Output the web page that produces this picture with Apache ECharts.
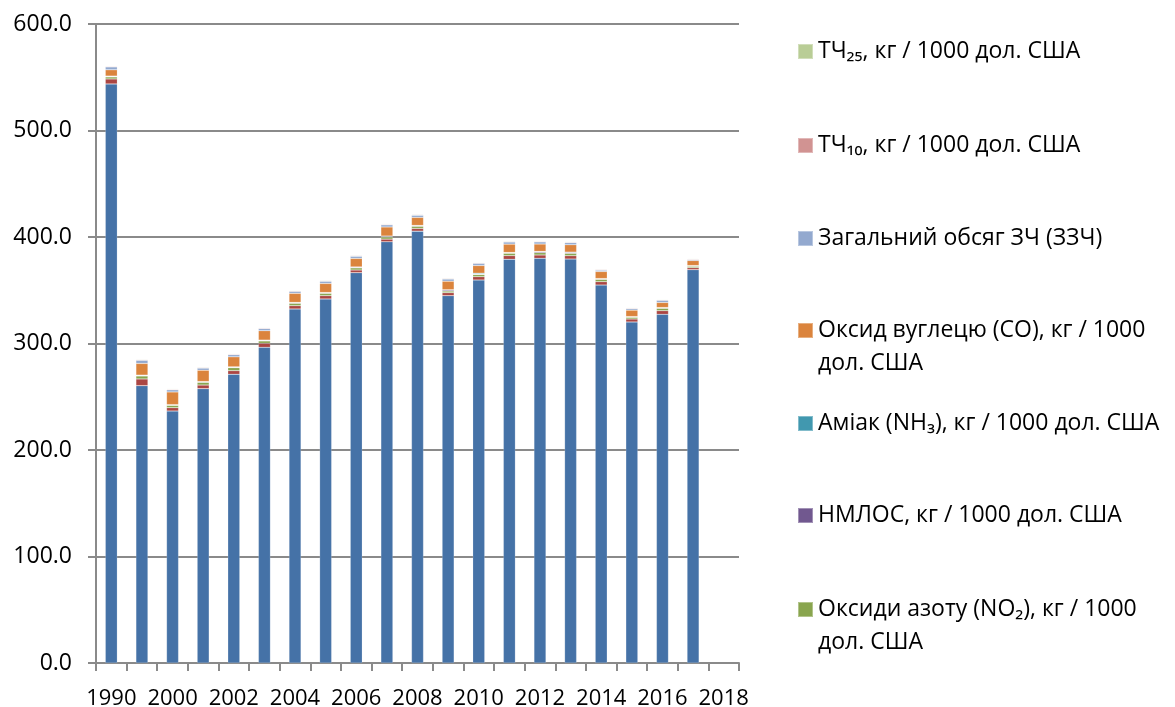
<!DOCTYPE html>
<html>
<head>
<meta charset="utf-8">
<script src="https://cdn.jsdelivr.net/npm/echarts@6/dist/echarts.min.js"></script>
<style>
  html, body { margin: 0; padding: 0; background: #fff; }
  #emissions_con { width: 1175px; height: 707px; }
</style>
</head>
<body>
<div id="emissions_con"></div>
<script>
  // years on the category axis (2018 has no data yet)
  var years = ['1990', '1995', '2000', '2001', '2002', '2003', '2004', '2005', '2006', '2007',
    '2008', '2009', '2010', '2011', '2012', '2013', '2014', '2015', '2016', '2017', '2018'];

  // kg / 1000 USD, bottom of the stack first
  var co2 = [543.7, 260.4, 236.6, 257.6, 271.1, 296.4, 332.4, 341.8, 366.5, 395.5, 405.5, 344.9, 359.6, 379.1, 380.0, 379.3, 354.9, 320.2, 327.4, 369.3, null];
  var so2 = [4.7, 6.3, 3.1, 3.4, 3.4, 3.8, 3.1, 3.1, 2.5, 2.5, 2.5, 2.8, 3.1, 3.4, 3.1, 3.1, 3.1, 2.8, 3.4, 1.9, null];
  var nox = [1.9, 2.8, 2.2, 2.5, 2.8, 2.2, 2.2, 2.2, 2.0, 2.0, 2.0, 1.5, 2.0, 2.2, 2.2, 2.2, 2.2, 1.6, 2.2, 1.3, null];
  var nmvoc = [0.5, 0.5, 0.4, 0.5, 0.5, 0.5, 0.6, 0.5, 0.6, 0.6, 0.6, 1.0, 0.5, 0.5, 0.9, 0.9, 0.5, 0.4, 0.5, 0.4, null];
  var nh3 = [0.3, 0.3, 0.3, 0.3, 0.3, 0.3, 0.3, 0.3, 0.3, 0.3, 0.3, 0.3, 0.8, 0.3, 0.3, 0.3, 0.3, 0.3, 0.3, 0.3, null];
  var co = [5.9, 11.0, 11.9, 10.6, 9.4, 8.8, 8.5, 8.5, 8.0, 8.5, 7.5, 8.0, 7.2, 7.8, 6.9, 6.9, 6.6, 6.0, 4.7, 4.7, null];
  var tsp = [2.7, 2.9, 2.0, 2.0, 2.0, 2.0, 1.8, 2.0, 2.0, 2.0, 2.0, 2.0, 2.0, 2.0, 2.0, 2.0, 1.2, 1.4, 2.0, 0.8, null];
  var pm10 = [0.6, 0.6, 0.6, 0.6, 0.6, 0.6, 0.6, 0.6, 0.6, 0.6, 0.6, 0.6, 0.6, 0.6, 0.6, 0.6, 0.6, 0.6, 0.6, 0.6, null];
  var pm25 = [0.5, 0.5, 0.5, 0.5, 0.5, 0.5, 0.5, 0.5, 0.5, 0.5, 0.5, 0.5, 0.5, 0.5, 0.5, 0.5, 0.5, 0.5, 0.5, 0.5, null];

  var yTicks = [0, 100, 200, 300, 400, 500, 600];

  var font = '"Open Sans", "Noto Sans", sans-serif';

  var series = [
    { name: 'Діоксид вуглецю (CO₂), кг / 1000 дол. США', data: co2, color: '#4572A7' },
    { name: 'Діоксид сірки (SO₂), кг / 1000 дол. США', data: so2, color: '#AA4643' },
    { name: 'Оксиди азоту (NO₂), кг / 1000 дол. США', data: nox, color: '#89A54E' },
    { name: 'НМЛОС, кг / 1000 дол. США', data: nmvoc, color: '#71588F' },
    { name: 'Аміак (NH₃), кг / 1000 дол. США', data: nh3, color: '#4198AF' },
    { name: 'Оксид вуглецю (CO), кг / 1000 дол. США', data: co, color: '#DB843D' },
    { name: 'Загальний обсяг ЗЧ (ЗЗЧ)', data: tsp, color: '#93A9CF' },
    { name: 'ТЧ₁₀, кг / 1000 дол. США', data: pm10, color: '#D19392' },
    { name: 'ТЧ₂₅, кг / 1000 дол. США', data: pm25, color: '#B9CD96' }
  ].map(function (s) {
    return {
      name: s.name,
      type: 'bar',
      stack: 'total',
      barWidth: 12,
      data: s.data,
      itemStyle: { color: s.color, borderColor: 'rgba(255,255,255,0.35)', borderWidth: 0.5 }
    };
  });

  // legend shows the top seven series, top of the stack first; two of them wrap,
  // their square is kept level with the first line by a taller icon box
  var legendRows = [
    { idx: 8, top: 35 },
    { idx: 7, top: 129 },
    { idx: 6, top: 222 },
    { idx: 5, top: 314, wrap: true },
    { idx: 4, top: 407 },
    { idx: 3, top: 499 },
    { idx: 2, top: 593, wrap: true }
  ];

  var legends = legendRows.map(function (r) {
    return {
      data: [series[r.idx].name],
      orient: 'vertical',
      left: 797,
      top: r.top,
      padding: 0,
      icon: r.wrap ? 'path://M0,0L15,0L15,15L0,15Z M0,47.99L0.01,47.99L0.01,48L0,48Z' : 'rect',
      itemWidth: 15,
      itemHeight: r.wrap ? 48 : 15,
      selectedMode: false,
      formatter: function (name) {
        return r.wrap ? name.replace(' дол.', '\nдол.') : name;
      },
      textStyle: {
        fontFamily: font,
        fontSize: 23,
        color: '#000',
        lineHeight: 33
      }
    };
  });

  var chart = echarts.init(document.getElementById('emissions_con'));
  var option = {
    animation: false,
    backgroundColor: '#fff',
    grid: { left: 96, right: 436, top: 24, bottom: 44, containLabel: false, outerBoundsMode: 'none' },
    legend: legends,
    xAxis: {
      type: 'category',
      data: years,
      boundaryGap: true,
      axisLine: { show: true, lineStyle: { color: '#8a8a8a', width: 2 } },
      axisTick: { show: true, interval: 0, length: 8, lineStyle: { color: '#8a8a8a', width: 2 } },
      axisLabel: { interval: 1, margin: 25, color: '#000', fontFamily: font, fontSize: 22 }
    },
    yAxis: {
      type: 'value',
      min: yTicks[0],
      max: yTicks[yTicks.length - 1],
      interval: yTicks[1] - yTicks[0],
      axisLine: { show: true, lineStyle: { color: '#8a8a8a', width: 2 } },
      axisTick: { show: true, length: 8, lineStyle: { color: '#8a8a8a', width: 2 } },
      axisLabel: {
        margin: 24,
        color: '#000',
        fontFamily: font,
        fontSize: 23,
        formatter: function (v) { return v.toFixed(1); }
      },
      splitLine: { show: true, lineStyle: { color: '#8a8a8a', width: 2 } }
    },
    series: series
  };
  chart.setOption(option);
  window.addEventListener('resize', function () {
    chart.resize();
  });
</script>
</body>
</html>
